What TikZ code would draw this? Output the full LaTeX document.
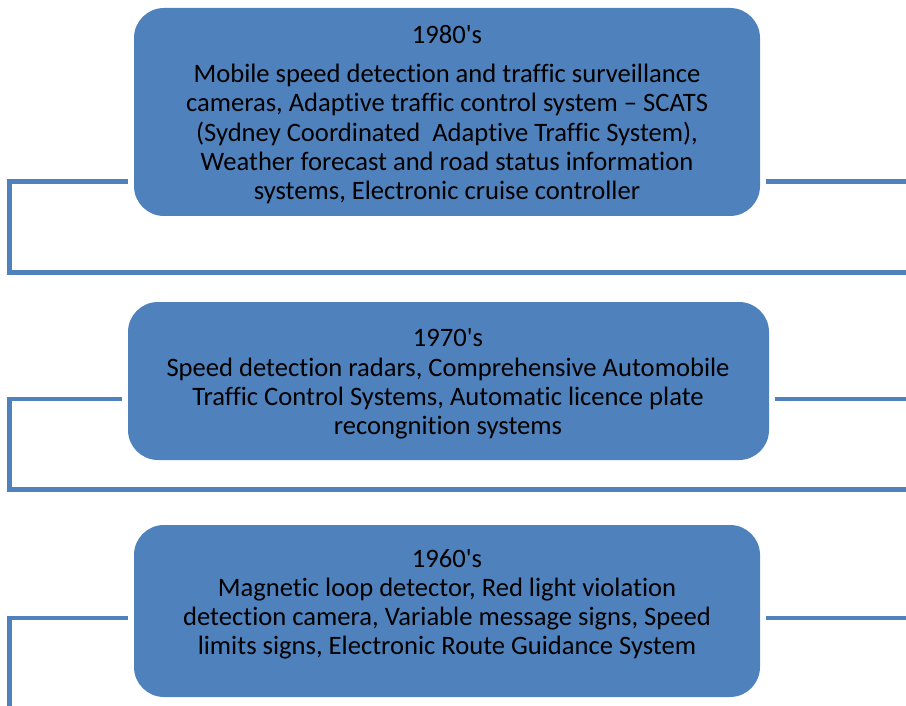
\documentclass[tikz,border=0pt]{standalone}
\usepackage{fontspec}
\setmainfont[Ligatures=NoCommon]{Carlito}
\usepackage{tikz}
\usetikzlibrary{calc}
\definecolor{boxblue}{HTML}{4F81BD}
\tikzset{
	era/.style={fill=boxblue, rounded corners=15pt, inner sep=0pt},
	eratext/.style={align=center, font=\fontsize{13.3}{14.6}\selectfont, text=black},
	link/.style={draw=boxblue, line width=2.4pt}
}

\begin{document}
\begin{tikzpicture}[x=0.5pt,y=-0.5pt]
	\path [use as bounding box] (0,0) rectangle (906,706);
	\node[era, minimum width=313pt, minimum height=104pt] (b1) at (447,112) {};
	\node[era, minimum width=320.5pt, minimum height=79pt] (b2) at (448.5,381) {};
	\node[era, minimum width=313pt, minimum height=86pt] (b3) at (447,611) {};
	\node[eratext] (t1) at (447,114.5) {1980\textquotesingle s\\[5pt]
		Mobile speed detection and traffic surveillance\\
		cameras, Adaptive traffic control system -- SCATS\\
		(Sydney Coordinated\ \ Adaptive Traffic System),\\
		Weather forecast and road status information\\
		systems, Electronic cruise controller};
	\node[eratext] (t2) at (448,384) {1970\textquotesingle s\\
		Speed detection radars, Comprehensive Automobile\\
		Traffic Control Systems, Automatic licence plate\\
		recongnition systems};
	\node[eratext] (t3) at (447,604.5) {1960\textquotesingle s\\
		Magnetic loop detector, Red light violation\\
		detection camera, Variable message signs, Speed\\
		limits signs, Electronic Route Guidance System};
	\coordinate (l1) at ($(b1.west)+(-6,69.5)$);
	\coordinate (r1) at ($(b1.east)+(6,69.5)$);
	\coordinate (l2) at ($(b2.west)+(-6,18)$);
	\coordinate (r2) at ($(b2.east)+(6,18)$);
	\coordinate (l3) at ($(b3.west)+(-6,7)$);
	\coordinate (r3) at ($(b3.east)+(6,7)$);
	\draw[link] (l1) -- (9.5,181.5) -- (9.5,272.5) -- (906,272.5);
	\draw[link] (r1) -- (906,181.5);
	\draw[link] (l2) -- (9.5,399) -- (9.5,489.5) -- (906,489.5);
	\draw[link] (r2) -- (906,399);
	\draw[link] (l3) -- (9.5,618) -- (9.5,706);
	\draw[link] (r3) -- (906,618);
\end{tikzpicture}
\end{document}
